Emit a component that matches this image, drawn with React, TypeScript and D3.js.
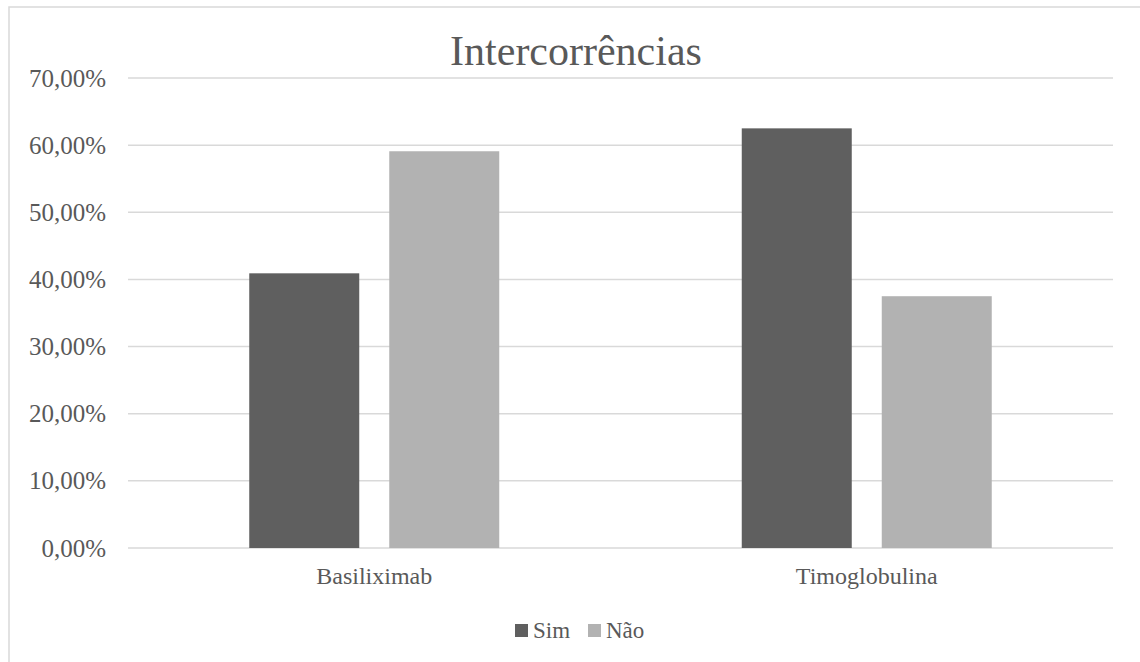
import React from "react";
import * as d3 from "d3";

const categories = ["Basiliximab", "Timoglobulina"];
const seriesNames = ["Sim", "Não"];
const simValues = [0.4091, 0.625];
const naoValues = [0.5909, 0.375];
const yTicks = [0, 0.1, 0.2, 0.3, 0.4, 0.5, 0.6, 0.7];
const colors = ["#5f5f5f", "#b2b2b2"];

const W = 1140;
const H = 662;
const FONT = "'Liberation Serif', 'Times New Roman', serif";
const TEXT = "#595959";
const GRID = "#d9d9d9";

export default function App() {
  const left = 128, right = 1113, top = 78, bottom = 548;
  const x = d3.scaleBand<string>().domain(categories).range([left, right]).paddingInner(0).paddingOuter(0);
  const groupW = 250;
  const inner = d3.scaleBand<string>().domain(seriesNames).range([0, groupW]).paddingInner(30 / 140).paddingOuter(0);
  const y = d3.scaleLinear().domain([0, 0.7]).range([bottom, top]);
  const fmt = (v: number) => (v * 100).toFixed(2).replace(".", ",") + "%";
  const values = [simValues, naoValues];

  return (
    <svg width={W} height={H} style={{ position: "absolute", left: 0, top: 0, background: "#fff" }}>
      <rect x={9} y={7} width={W + 20} height={H + 20} fill="#fff" stroke={GRID} strokeWidth={1.5} />
      <text x={576} y={65} textAnchor="middle" fontFamily={FONT} fontSize={42} fill={TEXT}>Intercorrências</text>
      {yTicks.map((t) => (
        <g key={t}>
          <line x1={left} x2={right} y1={y(t)} y2={y(t)} stroke={GRID} strokeWidth={1.5} />
          <text x={106} y={y(t) + 8.5} textAnchor="end" fontFamily={FONT} fontSize={25} fill={TEXT}>{fmt(t)}</text>
        </g>
      ))}
      {categories.map((c, ci) => {
        const gx = (x(c) as number) + (x.bandwidth() - groupW) / 2;
        return (
          <g key={c}>
            {seriesNames.map((s, si) => {
              const v = values[si][ci];
              return (
                <rect key={s} x={gx + (inner(s) as number)} y={y(v)} width={inner.bandwidth()} height={bottom - y(v)} fill={colors[si]} />
              );
            })}
            <text x={(x(c) as number) + x.bandwidth() / 2} y={584} textAnchor="middle" fontFamily={FONT} fontSize={24} fill={TEXT}>{c}</text>
          </g>
        );
      })}
      {seriesNames.map((s, si) => {
        const lx = si === 0 ? 515 : 588;
        return (
          <g key={s}>
            <rect x={lx} y={624} width={13} height={13} fill={colors[si]} />
            <text x={lx + 18} y={637.5} fontFamily={FONT} fontSize={23} fill={TEXT}>{s}</text>
          </g>
        );
      })}
    </svg>
  );
}
